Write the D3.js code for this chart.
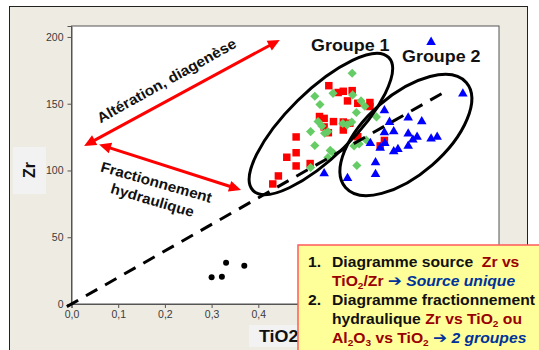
<!DOCTYPE html>
<html><head><meta charset="utf-8">
<script src="https://cdn.jsdelivr.net/npm/d3@7"></script>
<style>html,body{margin:0;padding:0;background:#fff;} svg{display:block;}</style>
</head><body>
<svg id="chart" width="539" height="350"></svg>
<script>
// ---- data ----
const xTicks = [0, 0.1, 0.2, 0.3, 0.4, 0.5];
const yTicks = [0, 50, 100, 150, 200];
const xLabel = "TiO2";
const yLabel = "Zr";
const blackPts = [[0.300,20.0],[0.322,20.4],[0.331,30.9],[0.370,28.7]];
const redPts = [
  [0.551,163.5],[0.571,158.4],[0.582,159.3],[0.601,159.8],[0.591,152.1],[0.613,150.3],
  [0.639,150.9],[0.639,147.9],[0.531,140.4],[0.541,139.0],[0.561,136.6],[0.582,136.3],
  [0.596,135.4],[0.582,130.3],[0.541,132.6],[0.550,128.3],[0.481,125.1],[0.481,113.3],
  [0.461,109.9],[0.481,103.4],[0.511,105.2],[0.443,95.9],[0.431,89.9],[0.613,125.3],
  [0.670,122.5],[0.661,118.4]
];
const greenPts = [
  [0.601,172.8],[0.521,155.6],[0.560,157.8],[0.602,156.6],[0.620,152.1],[0.628,148.1],
  [0.532,149.4],[0.610,143.4],[0.653,140.1],[0.528,136.7],[0.536,133.3],[0.542,127.9],
  [0.549,129.1],[0.512,129.1],[0.581,135.2],[0.590,134.1],[0.600,136.3],[0.521,118.7],
  [0.554,115.0],[0.560,113.3],[0.549,109.7],[0.512,102.2],[0.605,118.4],[0.616,119.9],
  [0.631,122.8],[0.611,103.7]
];
const bluePts = [
  [0.770,196.5],[0.838,157.8],[0.670,145.3],[0.681,136.6],[0.721,139.9],[0.750,137.1],
  [0.670,128.8],[0.690,129.6],[0.721,127.9],[0.740,125.5],[0.731,123.4],[0.770,124.1],
  [0.783,125.5],[0.640,120.8],[0.671,120.8],[0.661,117.2],[0.721,118.7],[0.699,116.3],
  [0.690,114.6],[0.651,106.4],[0.651,97.6],[0.591,94.6],[0.541,98.1]
];
const trendLine = [[-0.01,-2],[0.805,160]];
const groupEllipses = [[0.534,134.8],[0.716,126.6]];
const groupLabels = ["Groupe 1", "Groupe 2"];
const arrowLines = [[[0.027,118.4],[0.446,197.8]], [[0.059,119.5],[0.363,85.4]]];

// ---- layout ----
const svg = d3.select("#chart");
const SX = 1.12; // horizontal stretch of the original image
const x = d3.scaleLinear().domain([0, 0.9154]).range([71.5, 499]);
const y = d3.scaleLinear().domain([0, 208.2]).range([304, 26]);
const sans = "'Liberation Sans', Arial, sans-serif";

// outer beige panel
svg.append("rect").attr("x",9.5).attr("y",6.5).attr("width",518).attr("height",400)
  .attr("fill","#EEEBE3").attr("stroke","#222").attr("stroke-width",1);
// plot area
svg.append("rect").attr("x",x(0)).attr("y",y(208.2)).attr("width",x(0.9154)-x(0))
  .attr("height",y(0)-y(208.2)).attr("fill","#fff").attr("stroke","#555").attr("stroke-width",1);

// axes
const xAxis = d3.axisBottom(x).tickValues(xTicks).tickSize(4).tickPadding(3)
  .tickFormat(d => d3.format(".1f")(d).replace(".", ","));
const gx = svg.append("g").attr("transform",`translate(0,${y(0)})`).call(xAxis);
const yAxis = d3.axisLeft(y).tickValues(yTicks).tickSize(4).tickPadding(4);
const gy = svg.append("g").attr("transform",`translate(${x(0)},0)`).call(yAxis);
[gx, gy].forEach(g => {
  g.select(".domain").attr("stroke","#555");
  g.selectAll(".tick line").attr("stroke","#555");
  g.selectAll(".tick text").attr("fill","#3a3a3a").attr("font-family",sans).attr("font-size",10.5);
});

// axis titles
svg.append("rect").attr("x",13).attr("y",147).attr("width",33).attr("height",47).attr("fill","#F2F2F2");
svg.append("text").attr("transform","translate(29,170) rotate(-90)").attr("text-anchor","middle")
  .attr("dominant-baseline","central").attr("font-family",sans).attr("font-weight","bold")
  .attr("font-size",16).attr("fill","#111").text(yLabel);
svg.append("rect").attr("x",249).attr("y",325).attr("width",60).attr("height",22).attr("fill","#F2F2F2");
svg.append("text").attr("transform",`translate(259,342) scale(${SX},1)`)
  .attr("font-family",sans).attr("font-weight","bold").attr("font-size",16).attr("fill","#111").text(xLabel);

// points
const pts = svg.append("g");
pts.selectAll("circle.bk").data(blackPts).join("circle")
  .attr("cx",d=>x(d[0])).attr("cy",d=>y(d[1])).attr("r",3).attr("fill","#000");
pts.selectAll("path.rd").data(redPts).join("path")
  .attr("d", d3.symbol(d3.symbolSquare, 56))
  .attr("transform",d=>`translate(${x(d[0])},${y(d[1])})`).attr("fill","#FF0000");
pts.selectAll("path.gr").data(greenPts).join("path")
  .attr("d", d3.symbol(d3.symbolSquare, 42))
  .attr("transform",d=>`translate(${x(d[0])},${y(d[1])}) rotate(45)`).attr("fill","#66CC66");
pts.selectAll("path.bl").data(bluePts).join("path")
  .attr("d", d3.symbol(d3.symbolTriangle, 40))
  .attr("transform",d=>`translate(${x(d[0])},${y(d[1])+0.5})`).attr("fill","#0000FF");

// dashed reference line
svg.append("path").attr("d", d3.line().x(d=>x(d[0])).y(d=>y(d[1]))(trendLine))
  .attr("stroke","#000").attr("stroke-width",3).attr("stroke-dasharray","13,9").attr("fill","none");

// group ellipses
const ellGeom = [{rx:95, ry:33, a:-44.5},{rx:80, ry:40, a:-41}];
svg.selectAll("ellipse.grp").data(groupEllipses).join("ellipse")
  .attr("transform",(d,i)=>`translate(${x(d[0])},${y(d[1])}) rotate(${ellGeom[i].a})`)
  .attr("rx",(d,i)=>ellGeom[i].rx).attr("ry",(d,i)=>ellGeom[i].ry)
  .attr("fill","none").attr("stroke","#000").attr("stroke-width",3);
const glPos = [[311,51],[402,62]];
svg.selectAll("text.gl").data(groupLabels).join("text")
  .attr("transform",(d,i)=>`translate(${glPos[i][0]},${glPos[i][1]}) scale(${SX},1)`)
  .attr("font-family",sans).attr("font-weight","bold").attr("font-size",16).attr("fill","#111").text(d=>d);

// red double arrows
arrowLines.forEach(a => {
  const p0 = [x(a[0][0]), y(a[0][1])], p1 = [x(a[1][0]), y(a[1][1])];
  const dx = p1[0]-p0[0], dy = p1[1]-p0[1], L = Math.hypot(dx,dy), ux = dx/L, uy = dy/L;
  const hl = 12, hw = 5.5;
  svg.append("line").attr("x1",p0[0]+ux*8).attr("y1",p0[1]+uy*8).attr("x2",p1[0]-ux*8).attr("y2",p1[1]-uy*8)
    .attr("stroke","#FF0000").attr("stroke-width",3);
  [[p0,1],[p1,-1]].forEach(([p,s]) => {
    const bx = p[0]+s*ux*hl, by = p[1]+s*uy*hl;
    svg.append("path").attr("d",`M${p[0]},${p[1]}L${bx-uy*hw},${by+ux*hw}L${bx+uy*hw},${by-ux*hw}Z`)
      .attr("fill","#FF0000");
  });
});

// arrow annotations
const ann = [
  {t:"Altération, diagenèse", x:169, y:85, r:-29.3, len:157},
  {t:"Fractionnement", x:155, y:187, r:16, len:115},
  {t:"hydraulique", x:151, y:205, r:16.4, len:86}
];
ann.forEach(a => svg.append("text").attr("transform",`translate(${a.x},${a.y}) rotate(${a.r})`)
  .attr("text-anchor","middle").attr("font-family",sans).attr("font-weight","bold").attr("font-size",14.5)
  .attr("textLength",a.len).attr("lengthAdjust","spacingAndGlyphs").attr("fill","#111").text(a.t));

// yellow note box
svg.append("rect").attr("x",298).attr("y",245).attr("width",260).attr("height",120)
  .attr("fill","#FFFF99").attr("stroke","#FF5A5A").attr("stroke-width",1.5);
const DR = "#990000", BL = "#003399";
function noteLine(px, py, parts) {
  const t = svg.append("text").attr("transform",`translate(${px},${py}) scale(${SX},1)`)
    .attr("font-family",sans).attr("font-weight","bold").attr("font-size",14).attr("fill","#111")
    .attr("xml:space","preserve");
  parts.forEach(p => {
    const s = t.append("tspan").text(p.t).attr("fill", p.c || "#111");
    if (p.sub) s.attr("font-size",9).attr("dy",3);
    if (p.up) s.attr("dy",-3);
    if (p.it) s.attr("font-style","italic");
    if (p.ar) s.attr("font-family","'DejaVu Sans', sans-serif").attr("font-size",15).attr("font-weight","bold");
  });
}
noteLine(308,267,[{t:"1."}]);
noteLine(332,267,[{t:"Diagramme source\u00A0 "},{t:"Zr vs",c:DR}]);
noteLine(332,286,[{t:"TiO",c:DR},{t:"2",c:DR,sub:1},{t:"/Zr ",c:DR,up:1},{t:"➔",c:BL,ar:1},{t:" Source unique",c:BL,it:1}]);
noteLine(308,305,[{t:"2."}]);
noteLine(332,305,[{t:"Diagramme fractionnement"}]);
noteLine(332,324,[{t:"hydraulique "},{t:"Zr vs TiO",c:DR},{t:"2",c:DR,sub:1},{t:" ou",c:DR,up:1}]);
noteLine(332,343,[{t:"Al",c:DR},{t:"2",c:DR,sub:1},{t:"O",c:DR,up:1},{t:"3",c:DR,sub:1},{t:" vs TiO",c:DR,up:1},
  {t:"2",c:DR,sub:1},{t:" ",up:1},{t:"➔",c:BL,ar:1},{t:" 2 groupes",c:BL,it:1}]);
</script>
</body></html>
